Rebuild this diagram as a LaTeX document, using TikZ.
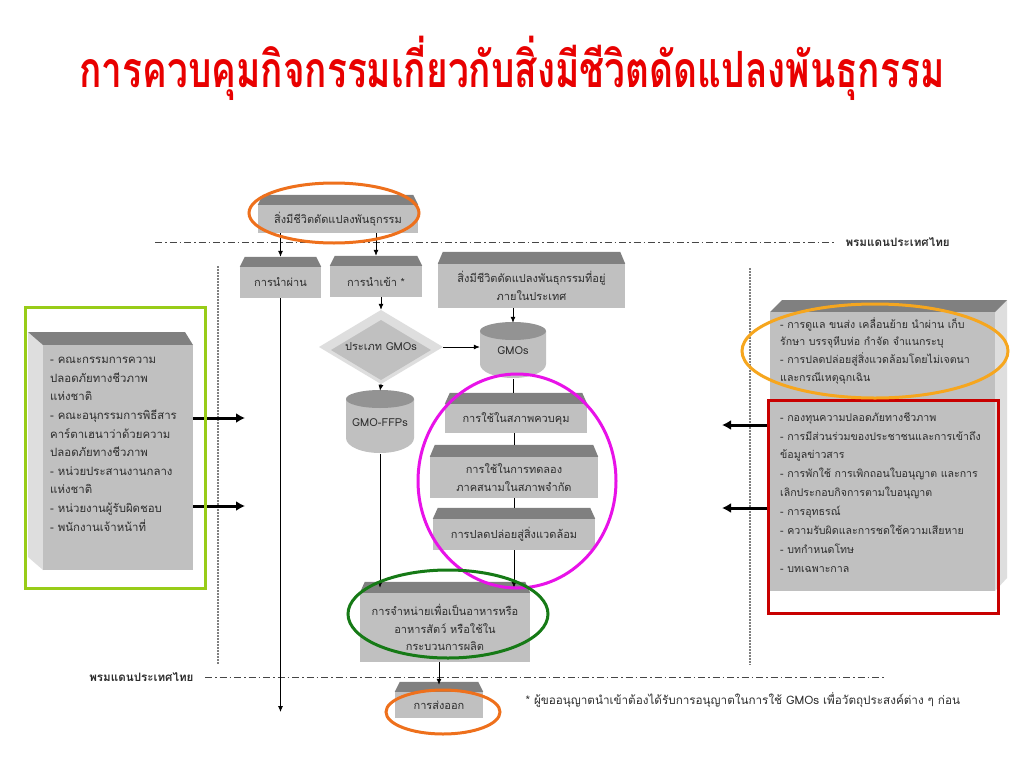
\documentclass[tikz,border=0pt]{standalone}
\usepackage{fontspec}
\setmainfont[Script=Thai]{Loma}
\usetikzlibrary{arrows.meta,calc}
\definecolor{boxg}{RGB}{192,192,192}
\definecolor{topg}{RGB}{128,128,128}
\definecolor{sideg}{RGB}{222,222,222}
\definecolor{txt}{RGB}{45,45,45}
\definecolor{titler}{RGB}{232,0,0}
\definecolor{ringor}{RGB}{238,112,28}
\definecolor{ringlo}{RGB}{246,166,30}
\definecolor{ringmag}{RGB}{232,18,232}
\definecolor{ringgr}{RGB}{22,122,22}
\definecolor{framegr}{RGB}{152,204,24}
\definecolor{framerd}{RGB}{200,0,0}
\definecolor{borderln}{RGB}{70,70,70}
\newcommand\bev[2][10]{%
 \fill[topg] (#2.north west) -- ++(5,-#1) -- ($(#2.north east)+(-5,-#1)$) -- (#2.north east) -- cycle;}
\tikzset{
 fbox/.style={fill=boxg, inner sep=2pt, align=center, text=txt, font=\fontsize{11}{17.5}\selectfont},
 lbl/.style={inner sep=0pt, align=center, text=txt, font=\fontsize{11}{17}\selectfont},
 arr/.style={-{Latex[length=6pt,width=5pt]}, line width=0.8pt, draw=black},
 ln/.style={line width=0.8pt, draw=black},
 fatarr/.style={-{Latex[length=9pt,width=10pt]}, line width=3pt},
 border/.style={draw=borderln, line width=0.8pt, dash pattern=on 7pt off 3pt on 1.5pt off 3pt},
 vdots/.style={draw=gray, line width=1.3pt, dash pattern=on 1.5pt off 1.5pt},
 ring/.style={line width=3pt},
 tb/.style={text=txt, align=left, font=\fontsize{11.4}{18.6}\selectfont, inner sep=0pt},
 blab/.style={font=\bfseries\fontsize{11.6}{13}\selectfont, text=txt},
}
\begin{document}
\begin{tikzpicture}[x=1pt,y=-1pt]
\useasboundingbox (0,0) rectangle (1024,768);
\fill[white] (0,0) rectangle (1024,768);

% title
\node[font=\bfseries\fontsize{37}{40}\selectfont, text=titler] (title) at (512,68)
  {\scalebox{1}[1.35]{การควบคุมกิจกรรมเกี่ยวกับสิ่งมีชีวิตดัดแปลงพันธุกรรม}};

% border lines
\coordinate (b1s) at (155,242); \coordinate (b1e) at (835,242);
\draw[border] (b1s) -- (b1e);
\node[blab, anchor=west] (blab1) at (842,242) {พรมแดนประเทศไทย};
\coordinate (b2s) at (205,677); \coordinate (b2e) at (885,677);
\draw[border] (b2s) -- (b2e);
\node[blab, anchor=east] (blab2) at (197,677) {พรมแดนประเทศไทย};

% dotted separators
\coordinate (d1s) at (218,266); \coordinate (d1e) at (218,665);
\draw[vdots] (d1s) -- (d1e);
\coordinate (d2s) at (750,268); \coordinate (d2e) at (750,665);
\draw[vdots] (d2s) -- (d2e);

% boxes
\node[fbox, minimum width=160, minimum height=28] (top) at (338,219) {สิ่งมีชีวิตดัดแปลงพันธุกรรม};
\bev{top}
\node[fbox, minimum width=81, minimum height=31] (pass) at (280.5,282.5) {การนำผ่าน};
\bev{pass}
\node[fbox, minimum width=92, minimum height=31] (import) at (376,281.5) {การนำเข้า *};
\bev{import}
\node[fbox, minimum width=187, minimum height=44] (dom) at (531.5,286) {สิ่งมีชีวิตดัดแปลงพันธุกรรมที่อยู่\\ภายในประเทศ};
\bev[12]{dom}
\node[fbox, minimum width=142, minimum height=29] (c1) at (516,418.5) {การใช้ในสภาพควบคุม};
\bev[11]{c1}
\node[fbox, minimum width=168, minimum height=41] (c2) at (514,477.5) {การใช้ในการทดลอง\\ภาคสนามในสภาพจำกัด};
\bev[12]{c2}
\node[fbox, minimum width=162, minimum height=31] (c3) at (514,534.5) {การปลดปล่อยสู่สิ่งแวดล้อม};
\bev[11]{c3}
\node[fbox, minimum width=170, minimum height=69] (sale) at (445,627.5) {การจำหน่ายเพื่อเป็นอาหารหรือ\\อาหารสัตว์ หรือใช้ใน\\กระบวนการผลิต};
\bev[11]{sale}
\node[fbox, minimum width=88, minimum height=26] (export) at (439,705) {การส่งออก};
\bev{export}

% diamond
\fill[sideg] (319,347) -- (381,310) -- (443,347) -- (381,384) -- cycle;
\fill[boxg] (331,350) -- (381,320) -- (431,350) -- (381,380) -- cycle;
\node[lbl, minimum width=124, minimum height=74] (dia) at (381,347) {\raisebox{-4pt}{ประเภท GMOs}};

% cylinders
\fill[boxg] (480,331) -- (480,364) arc[start angle=180, end angle=0, x radius=33, y radius=14] -- (546,331) -- cycle;
\fill[topg!70!boxg] (513,331) ellipse[x radius=33, y radius=9];
\node[lbl, minimum width=66, minimum height=56] (gmos) at (513,351) {GMOs};
\fill[boxg] (346,399) -- (346,438) arc[start angle=180, end angle=0, x radius=34, y radius=15] -- (414,399) -- cycle;
\fill[topg!70!boxg] (380,399) ellipse[x radius=34, y radius=9];
\node[lbl, minimum width=68, minimum height=63] (ffp) at (380,422.5) {GMO-FFPs};

% connectors
\draw[arr] (top.south -| pass) -- ([yshift=10pt]pass.north);
\draw[arr] (top.south -| import) -- ([yshift=10pt]import.north);
\coordinate (passend) at (280.5,712);
\draw[arr] (pass.south) -- (passend);
\draw[arr] (import.south -| dia) -- (dia.north);
\draw[arr] (dom.south -| gmos) -- (gmos.north);
\draw[arr] (dia.east) -- (gmos.west |- dia.east);
\draw[arr] (dia.south) -- (ffp.north);
\draw[ln] (gmos.south) -- ([yshift=11pt]c1.north -| gmos);
\draw[ln] (c1.south -| c2) -- ([yshift=12pt]c2.north);
\draw[ln] (c2.south) -- ([yshift=11pt]c3.north);
\draw[arr] (c3.south) -- ([yshift=5pt]c3.south |- sale.north);
\draw[arr] (ffp.south) -- ([yshift=5pt]ffp.south |- sale.north);
\draw[arr] (sale.south -| export) -- ([yshift=7pt]export.north);

% left 3D box
\fill[sideg] (28,332) -- (43,345) -- (43,570) -- (28,557) -- cycle;
\fill[topg] (28,332) -- (185,332) -- (193,345) -- (43,345) -- cycle;
\node[fill=boxg, minimum width=150, minimum height=225, inner sep=0pt] (lbox) at (118,457.5) {};
\node[tb, anchor=north west] (ltxt) at (50,357) {- คณะกรรมการความ\\ปลอดภัยทางชีวภาพ\\แห่งชาติ\\- คณะอนุกรรมการพิธีสาร\\คาร์ตาเฮนาว่าด้วยความ\\ปลอดภัยทางชีวภาพ\\- หน่วยประสานงานกลาง\\แห่งชาติ\\- หน่วยงานผู้รับผิดชอบ\\- พนักงานเจ้าหน้าที่};
\coordinate (la1) at (245,418);
\coordinate (la2) at (245,506);
\draw[fatarr] (lbox.east |- la1) -- (la1);
\draw[fatarr] (lbox.east |- la2) -- (la2);
\draw[framegr, line width=3pt] (25,307) rectangle (205,588);

% right 3D box
\fill[sideg] (995,312) -- (1007,300) -- (1007,578) -- (995,591) -- cycle;
\fill[topg] (770,312) -- (782,300) -- (1007,300) -- (995,312) -- cycle;
\node[fill=boxg, minimum width=225, minimum height=279, inner sep=0pt] (rbox) at (882.5,451.5) {};
\node[tb, anchor=north west, font=\fontsize{10.6}{17.8}\selectfont] (rtxt1) at (780,317) {- การดูแล ขนส่ง เคลื่อนย้าย นำผ่าน เก็บ\\รักษา บรรจุหีบห่อ กำจัด จำแนกระบุ\\- การปลดปล่อยสู่สิ่งแวดล้อมโดยไม่เจตนา\\และกรณีเหตุฉุกเฉิน};
\node[tb, anchor=north west, font=\fontsize{10.6}{18.9}\selectfont] (rtxt2) at (780,412) {- กองทุนความปลอดภัยทางชีวภาพ\\- การมีส่วนร่วมของประชาชนและการเข้าถึง\\ข้อมูลข่าวสาร\\- การพักใช้ การเพิกถอนใบอนุญาต และการ\\เลิกประกอบกิจการตามใบอนุญาต\\- การอุทธรณ์\\- ความรับผิดและการชดใช้ความเสียหาย\\- บทกำหนดโทษ\\- บทเฉพาะกาล};
\coordinate (ra1) at (722,425);
\coordinate (ra2) at (722,508);
\draw[fatarr] (rbox.west |- ra1) -- (ra1);
\draw[fatarr] (rbox.west |- ra2) -- (ra2);
\draw[framerd, line width=3pt] (768,400) rectangle (998,613);

% footnote
\node[anchor=west, text=txt, font=\fontsize{11.7}{13}\selectfont] (note) at (522,700)
  {* ผู้ขออนุญาตนำเข้าต้องได้รับการอนุญาตในการใช้ GMOs เพื่อวัตถุประสงค์ต่าง ๆ ก่อน};

% highlight rings
\draw[ring, ringor] (334,213) ellipse[x radius=85, y radius=30];
\draw[ring, ringmag] (517,481) ellipse[x radius=99, y radius=107];
\draw[ring, ringgr] (448,614) ellipse[x radius=100, y radius=44];
\draw[ring, ringor] (443,712) ellipse[x radius=57, y radius=22];
\draw[ring, ringlo] (875,351) ellipse[x radius=133, y radius=47];
\end{tikzpicture}
\end{document}
